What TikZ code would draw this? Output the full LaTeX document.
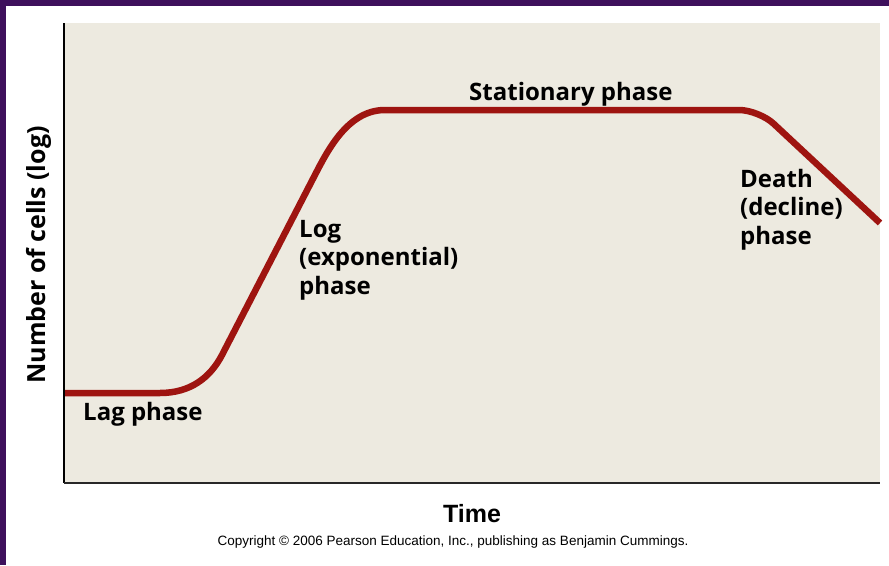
\documentclass[tikz,border=0pt]{standalone}
\usepackage{fontspec}
\setmainfont{Open Sans}
\newfontfamily\arialfont{Liberation Sans}
\definecolor{framepurple}{RGB}{62,16,92}
\definecolor{plotbg}{RGB}{237,234,224}
\definecolor{curvered}{RGB}{158,20,16}
\definecolor{axisgray}{RGB}{40,40,40}
\begin{document}
\begin{tikzpicture}[x=1pt,y=-1pt,
  lbl/.style={inner sep=0pt,font=\fontsize{24}{28.5}\selectfont\bfseries,align=left},
  growth/.style={draw=curvered,line width=6.5pt,line join=round}]
\useasboundingbox (0,0) rectangle (889,565);
\fill[white] (0,0) rectangle (889,565);
\fill[framepurple] (0,0) rectangle (889,5.5);
\fill[framepurple] (0,0) rectangle (6,565);
% plot area
\fill[plotbg] (64,23) rectangle (880,483);
\coordinate (o) at (64,483);
\coordinate (ytop) at (64,23);
\coordinate (xend) at (880,483);
% curve
\coordinate (c0) at (64,393);
\coordinate (c1) at (160,393);
\coordinate (c2) at (222,355);
\coordinate (c3) at (317,171);
\coordinate (c4) at (385,110);
\coordinate (c5) at (739,110);
\coordinate (c6) at (773.6,123.7);
\coordinate (c7) at (880,223);
\draw[growth] (c0) -- (c1) .. controls (190,393) and (210,378) .. (c2) -- (c3)
  .. controls (330,146) and (350,110) .. (c4) -- (c5)
  .. controls (750,110) and (765.6,116.2) .. (c6) -- (c7);
% axes
\draw[black,line width=2.2pt] (ytop) -- (o);
\draw[axisgray,line width=2.2pt] (o) -- (xend);
% labels
\node[lbl,anchor=base west] (lag) at (83,420) {Lag phase};
\node[lbl,anchor=base west] (stat) at (469,100) {Stationary phase};
\node[lbl,anchor=north west] (log) at (299,220) {Log\\(exponential)\\phase};
\node[lbl,anchor=north west] (death) at (740,169) {Death\\(decline)\\phase};
\node[lbl,anchor=base,rotate=90,font=\fontsize{25}{30}\selectfont\bfseries] (ylab) at (45,255) {Number of cells (log)};
\node[inner sep=0pt,anchor=base,font=\arialfont\fontsize{25}{30}\selectfont\bfseries] (time) at (472,522) {Time};
\node[inner sep=0pt,anchor=base,font=\arialfont\fontsize{13.5}{16}\selectfont] (copy) at (453,545) {Copyright \textcopyright\ 2006 Pearson Education, Inc., publishing as Benjamin Cummings.};
\end{tikzpicture}
\end{document}
